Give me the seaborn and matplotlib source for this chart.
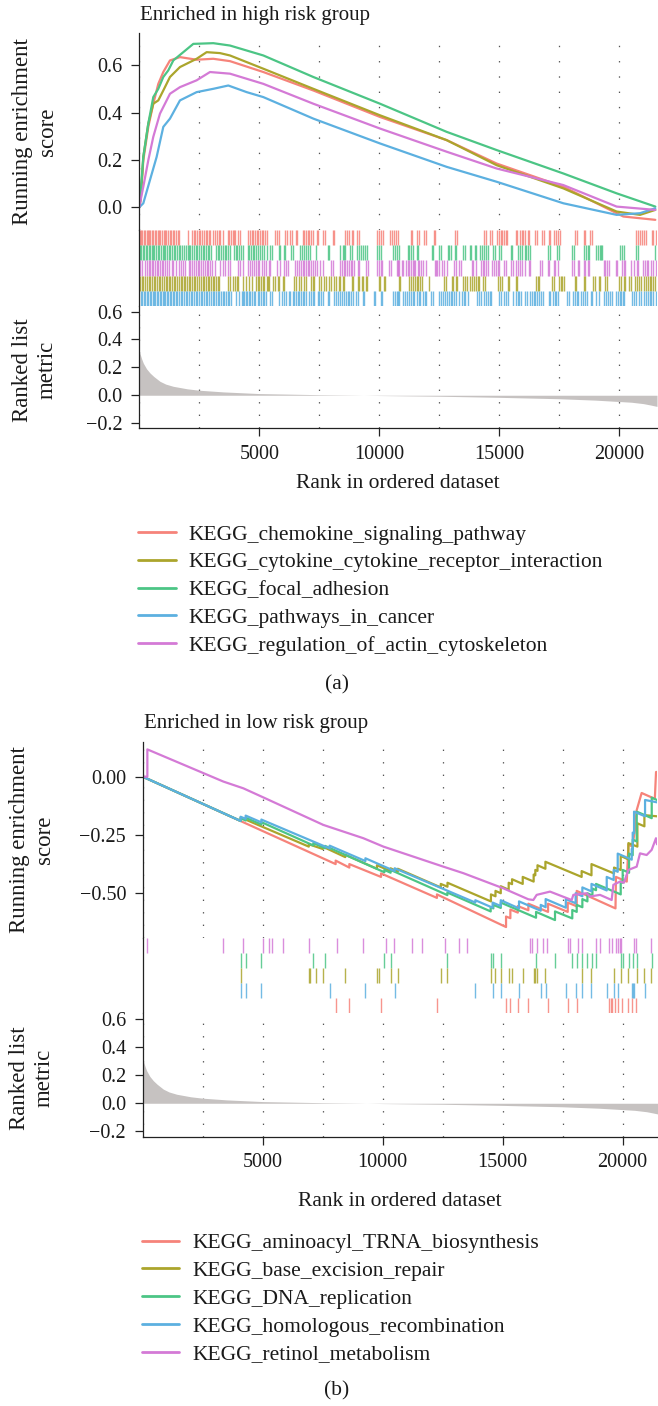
import numpy as np
import pandas as pd
import matplotlib
matplotlib.use("Agg")
import matplotlib.pyplot as plt
import seaborn as sns
from matplotlib.lines import Line2D
from matplotlib.ticker import MultipleLocator, FixedLocator

sns.set_style("ticks")
plt.rcParams["font.family"] = ["Liberation Serif", "DejaVu Serif"]
plt.rcParams["lines.scale_dashes"] = False

# ---------------------------------------------------------------- data
# Panel (a): enriched in high risk group
names_a = ["KEGG_chemokine_signaling_pathway",
           "KEGG_cytokine_cytokine_receptor_interaction",
           "KEGG_focal_adhesion",
           "KEGG_pathways_in_cancer",
           "KEGG_regulation_of_actin_cytoskeleton"]
colors_a = ["#F6837A", "#ABA52C", "#4CC585", "#5CB0E0", "#D47AD6"]

chemokine_rank = [0, 60, 167, 375, 583, 792, 1000, 1278, 1694, 2389, 3083, 3778, 5167, 7250, 10028, 12806, 14889, 17667, 20167, 21500]
chemokine_es = [0.0, 0.031, 0.199, 0.34, 0.438, 0.522, 0.572, 0.621, 0.635, 0.624, 0.628, 0.618, 0.572, 0.494, 0.382, 0.284, 0.185, 0.087, -0.039, -0.053]

cytokine_rank = [0, 60, 167, 375, 583, 792, 1000, 1278, 1694, 2389, 2806, 3361, 3778, 5167, 7250, 10028, 12806, 14889, 17667, 19889, 20861, 21500]
cytokine_es = [0.0, 0.045, 0.213, 0.354, 0.438, 0.452, 0.494, 0.551, 0.593, 0.628, 0.656, 0.652, 0.642, 0.586, 0.501, 0.389, 0.284, 0.178, 0.08, -0.018, -0.032, -0.011]

focal_rank = [0, 50, 167, 375, 583, 792, 1000, 1208, 1417, 1833, 2250, 3083, 3778, 5167, 7250, 10028, 12806, 14889, 17667, 19889, 21500]
focal_es = [0.0, 0.05, 0.213, 0.354, 0.466, 0.501, 0.551, 0.579, 0.621, 0.656, 0.691, 0.694, 0.684, 0.642, 0.551, 0.438, 0.319, 0.242, 0.143, 0.059, 0.003]

cancer_rank = [0, 167, 444, 722, 1000, 1278, 1694, 2389, 3083, 3708, 4473, 5167, 7250, 10028, 12806, 14889, 17667, 19889, 20861, 21500]
cancer_es = [0.0, 0.017, 0.115, 0.213, 0.34, 0.375, 0.452, 0.487, 0.501, 0.515, 0.487, 0.466, 0.375, 0.27, 0.171, 0.108, 0.017, -0.032, -0.025, -0.004]

actin_rank = [0, 167, 375, 583, 861, 1278, 1694, 2389, 2945, 3778, 5167, 7250, 10028, 12806, 14889, 17667, 19889, 21500]
actin_es = [0.003, 0.087, 0.199, 0.298, 0.396, 0.48, 0.508, 0.537, 0.572, 0.565, 0.522, 0.438, 0.333, 0.235, 0.164, 0.094, 0.003, -0.011]

chemokine_hits = [30, 80, 130, 180, 240, 300, 350, 400, 460, 520, 580, 640, 700, 760, 820, 880, 950, 1010, 1070, 1130, 1200, 1260, 1330, 1400, 1460, 1530, 1600, 1660,
                  2014, 2195, 2260, 2330, 2400, 2470, 2540, 2600, 2690, 2760, 2830, 2900, 2960, 3080, 3150, 3220, 3300, 3380, 3470,
                  3680, 3750, 3820, 3890, 3960, 4000, 4100, 4190, 4540, 4620, 4680, 4750, 4820, 4890, 4960, 5030, 5100, 5170, 5240, 5300,
                  5650, 5720, 5830, 6070, 6140, 6290, 6350, 6530, 6580, 6810, 6880, 6950, 7020, 7090, 7160, 7250, 7400, 7460, 7670, 7720,
                  8060, 8110, 8580, 8650, 8750, 8850, 8890, 9060, 9140, 9920, 10000, 10080, 10140, 10450, 10530, 10600, 10680, 10780,
                  11330, 11360, 11570, 11640, 11880, 11940, 12290, 12330, 13160, 13220, 14350, 14450, 14630, 14680,
                  14910, 14980, 15050, 15120, 15190, 15260, 15330, 15700, 15750, 15860, 15930, 16000, 16080, 16200, 16250,
                  16490, 16560, 16770, 16850, 17050, 17100, 17280, 17350, 17450, 17530, 18160, 18220, 18520, 18590, 18780, 18850,
                  20700, 20770, 20860, 20930, 21030, 21100, 21360, 21410, 21530]
focal_hits = [30, 90, 150, 210, 270, 330, 390, 450, 510, 570, 630, 690, 760, 830, 900, 970, 1040, 1090, 1150, 1220, 1290, 1360, 1430, 1500, 1570, 1640, 1710, 1790,
              1850, 1930, 2010, 2060, 2130, 2200, 2270, 2350, 2420, 2500, 2570, 2640, 2710, 2780, 2850, 2920, 3000,
              3200, 3270, 3340, 3410, 3480, 3550, 3620, 3700, 3770, 3960, 4030, 4070, 4150, 4230, 4300, 4510, 4590, 4670, 4750,
              4790, 4870, 4950, 5030, 5110, 5180, 5300, 5450, 5530, 5810, 5860, 6010, 6070, 6330, 6390, 6700, 6780, 6860, 6940,
              7040, 7110, 7370, 7880, 7920, 8360, 8470, 8540, 8580, 8790, 8850, 9070, 9140, 9250, 9330, 9400, 9500, 9920, 10000, 10080,
              10590, 10670, 10720, 10800, 11180, 11250, 11320, 11390, 11570, 11620, 12200, 12250, 12500, 12570, 12850, 12920, 12990,
              13160, 13210, 13470, 13550, 13780, 13830, 13990, 14040, 14210, 14280, 14380, 14460, 14540, 14740, 14830, 15000, 15060,
              15470, 15530, 15780, 15870, 15950, 16050, 16130, 16200, 16280, 17030, 17100, 17390, 17500, 18030, 18130, 18540, 18610,
              18700, 18750, 19030, 19110, 19190, 19240, 19290, 20030, 20110, 20200, 20700, 20780, 21500]
actin_hits = [30, 100, 250, 330, 420, 440, 510, 580, 650, 720, 790, 860, 930, 1000, 1080, 1150, 1250, 1350, 1420, 1520, 1640, 1720, 1810, 1900,
              2060, 2130, 2200, 2280, 2350, 2430, 2500, 2570, 2640, 2720, 2800, 2880, 2940, 3030, 3150, 3360, 3470, 3580, 3680, 3780,
              4100, 4200, 4300, 4540, 4610, 4690, 4770, 4850, 4930, 5000, 5110, 5200, 5280, 5390, 5460, 5750, 5860, 6040, 6120, 6180,
              6500, 6580, 6670, 6740, 6810, 6880, 6950, 7020, 7090, 7160, 7230, 7310, 7390, 7540, 7640, 7990, 8060, 8360, 8440, 8520, 8580,
              8640, 8720, 8800, 8880, 8960, 9110, 9170, 9450, 9530, 9890, 9970, 10050, 10110, 10420, 10490, 10720, 10780,
              10770, 10810, 10930, 10970, 11110, 11180, 11250, 11320, 11390, 11450, 11500, 11600, 11640, 11740, 11810, 11930,
              12300, 12360, 12420, 12470, 12620, 12700, 12800, 13130, 13190, 13310, 13400, 13850, 13900, 14030,
              14240, 14310, 14380, 14460, 14520, 14700, 14780, 14860, 14950, 15000, 15210, 15280, 15500, 15580, 15700, 15770,
              15880, 15930, 16070, 16230, 16290, 16700, 16790, 17020, 17070, 17260, 17310, 17460, 18030, 18120, 18280, 18320,
              18530, 18570, 18690, 18750, 19370, 19420, 19500, 19560, 19870, 19920, 20120, 20200, 20250, 20500, 20600,
              20730, 20780, 21000, 21050, 21140, 21190, 21340, 21390, 21530]
cytokine_hits = [30, 100, 170, 240, 320, 400, 460, 530, 600, 670, 740, 810, 880, 950, 1020, 1100, 1170, 1220, 1290, 1360, 1430, 1500, 1570, 1640, 1720,
                 1780, 1850, 1920, 1990, 2060, 2130, 2200, 2270, 2340, 2420, 2500, 2580, 2640, 2710, 2780, 2850, 2920, 2990, 3060, 3130, 3200, 3270, 3330,
                 3680, 3760, 3890, 3980, 4070, 4130, 4330, 4440, 4580, 4680, 4860, 4930, 5000, 5070, 5140, 5210, 5320, 5380, 5420,
                 5580, 5670, 5760, 5830, 5970, 6040, 6460, 6530, 6670, 6720, 6880, 6940, 7150, 7220, 7290, 7470, 7580, 7710, 7780,
                 7920, 7990, 8130, 8200, 8310, 8360, 8470, 8540, 8860, 8920, 9110, 9170, 9260, 9330, 9450, 9490, 9970, 10030, 10210, 10250,
                 10810, 10860, 11220, 11300, 11420, 11490, 11560, 11630, 11710, 11790, 12060, 12700, 12770, 13030, 13080, 13200, 13250,
                 13500, 13580, 13660, 13780, 13850, 13950, 14030, 14120, 14170, 14340, 14410, 14940, 15030, 15110, 15370, 15420, 15700, 15750,
                 16530, 16600, 16670, 17180, 17260, 17500, 17550, 17620, 17680, 18160, 18210, 18520, 18570, 18920, 18970, 19170, 19210,
                 19410, 19470, 19980, 20070, 20200, 20250, 20420, 20470, 20640, 20720, 20840, 20900, 21040, 21110,
                 21190, 21260, 21330, 21400, 21470]
cancer_hits = [70, 130, 190, 250, 310, 370, 430, 490, 550, 610, 670, 730, 790, 850, 910, 970, 1030, 1090, 1150, 1210, 1280, 1340, 1400, 1460, 1520,
               1580, 1650, 1720, 1790, 1860, 1930, 2000, 2070, 2140, 2210, 2280, 2350, 2420, 2490, 2560, 2630, 2700, 2770, 2840, 2910, 2980,
               3050, 3120, 3190, 3260, 3330, 3400, 3470, 3540, 3610, 3680, 3750, 3830, 4030, 4170, 4270, 4310, 4380, 4440,
               4490, 4560, 4630, 4700, 4770, 4840, 4930, 5000, 5070, 5140, 5210, 5270, 5460, 5510, 5830, 5930, 6040, 6110, 6220, 6280,
               6390, 6460, 6530, 6600, 6670, 6740, 6810, 6880, 6940, 7080, 7150, 7220, 7290, 7430, 7470, 7570, 7640, 7850, 7920,
               8130, 8200, 8260, 8360, 8440, 8540, 8610, 8680, 8750, 8820, 8890, 9030, 9100, 9310, 9380, 9760, 9830, 10070, 10110,
               10560, 10640, 10720, 10780, 10800, 10970, 11050, 11150, 11250, 11320, 11390, 11460, 11560, 11640, 11700, 11800, 11890, 11940,
               12160, 12250, 12500, 12580, 12670, 12750, 12820, 12900, 12980, 13030, 13130, 13200, 13300, 13450, 13520, 13590, 13680,
               14070, 14140, 14230, 14380, 14450, 14520, 14600, 14650, 15000, 15060, 15210, 15280, 15350, 15590, 15680, 15770, 15840, 15900,
               16080, 16150, 16290, 16350, 16450, 16500, 16570, 16640, 16720, 16810, 17060, 17110, 17220, 17300, 17380, 17430,
               17820, 17920, 18060, 18140, 18220, 18270, 18410, 18480, 18570, 18640, 18800, 18850, 19030, 19140, 19360, 19440, 19530,
               19610, 19700, 19860, 19940, 20030, 20070, 20150, 20210, 20530, 20610, 20700, 20810, 20900, 21030, 21110,
               21180, 21260, 21330, 21390, 21530]

# Panel (b): enriched in low risk group
names_b = ["KEGG_aminoacyl_TRNA_biosynthesis",
           "KEGG_base_excision_repair",
           "KEGG_DNA_replication",
           "KEGG_homologous_recombination",
           "KEGG_retinol_metabolism"]
colors_b = ["#F6837A", "#ABA52C", "#4CC585", "#5CB0E0", "#D47AD6"]

trna_rank = [0, 8040, 8040, 8610, 8610, 9930, 9930, 12260, 12260, 15140, 15140, 15320, 15320, 15630, 15630, 16070, 16070, 16890, 16890,
             17710, 17710, 18085, 18085, 19700, 19720, 20170, 20240, 20400, 20510, 20580, 20790, 21340, 21390, 21430]
trna_es = [0.0, -0.375, -0.36, -0.39, -0.375, -0.43, -0.415, -0.52, -0.505, -0.645, -0.6, -0.607, -0.57, -0.583, -0.555, -0.573, -0.545, -0.58, -0.545,
           -0.58, -0.54, -0.556, -0.49, -0.565, -0.43, -0.45, -0.29, -0.3, -0.23, -0.145, -0.07, -0.095, 0.02, 0.02]

ber_rank = [0, 4080, 4080, 6920, 6920, 7500, 7500, 8440, 8440, 9760, 9760, 10330, 10330, 10630, 10630, 12420, 12420, 12700, 12700,
            14510, 14510, 14700, 14700, 14920, 14920, 15250, 15250, 15390, 15390, 15835, 15835, 16290, 16290, 16360, 16360, 16450, 16450,
            16780, 16780, 18290, 18290, 18700, 18700, 19640, 19640, 19918, 19918, 20238, 20238, 20613, 20613, 20905, 20905, 21430]
ber_es = [0, -0.19, -0.175, -0.3, -0.29, -0.31, -0.3, -0.345, -0.335, -0.395, -0.38, -0.405, -0.393, -0.407, -0.395, -0.475, -0.46, -0.472, -0.455,
          -0.535, -0.505, -0.513, -0.49, -0.5, -0.47, -0.485, -0.455, -0.461, -0.44, -0.46, -0.43, -0.45, -0.42, -0.423, -0.4, -0.404, -0.38,
          -0.395, -0.365, -0.43, -0.405, -0.423, -0.375, -0.415, -0.39, -0.4, -0.34, -0.355, -0.285, -0.3, -0.2, -0.213, -0.165, -0.17]

dna_rank = [0, 4080, 4080, 4290, 4290, 4945, 4945, 7110, 7110, 7600, 7600, 10070, 10070, 10330, 10330, 12695, 12695, 14500, 14500,
            14610, 14610, 14920, 14920, 16390, 16390, 17180, 17180, 17900, 17900, 18085, 18085, 18320, 18320, 18530, 18530, 18740, 18740,
            18890, 18890, 19918, 19918, 20000, 20000, 20266, 20266, 20418, 20418, 20585, 20585, 21210, 21210, 21430]
dna_es = [0, -0.19, -0.178, -0.188, -0.176, -0.205, -0.195, -0.295, -0.285, -0.307, -0.297, -0.41, -0.4, -0.412, -0.4, -0.508, -0.497, -0.578, -0.56,
          -0.565, -0.55, -0.563, -0.54, -0.605, -0.58, -0.615, -0.578, -0.608, -0.572, -0.58, -0.55, -0.56, -0.525, -0.535, -0.5, -0.51, -0.48,
          -0.487, -0.46, -0.505, -0.45, -0.455, -0.4, -0.412, -0.33, -0.337, -0.27, -0.278, -0.15, -0.178, -0.09, -0.1]

hr_rank = [0, 4080, 4080, 4290, 4290, 4945, 4945, 7790, 7790, 9280, 9280, 10500, 10500, 13860, 13860, 14580, 14580, 14920, 14920,
           15680, 15680, 16585, 16585, 16790, 16790, 17630, 17630, 18040, 18040, 18320, 18320, 18700, 18700, 19335, 19335, 19626, 19626,
           19793, 19793, 20377, 20377, 20418, 20418, 20474, 20474, 20932, 20932, 21430]
hr_es = [0, -0.19, -0.172, -0.181, -0.167, -0.196, -0.184, -0.308, -0.296, -0.362, -0.35, -0.405, -0.393, -0.54, -0.53, -0.562, -0.54, -0.555, -0.53,
         -0.565, -0.535, -0.575, -0.55, -0.56, -0.525, -0.562, -0.525, -0.543, -0.5, -0.513, -0.475, -0.492, -0.46, -0.488, -0.43, -0.443, -0.4,
         -0.408, -0.33, -0.356, -0.31, -0.312, -0.24, -0.243, -0.15, -0.17, -0.1, -0.11]

retinol_rank = [0, 194, 194, 3361, 4195, 5028, 7528, 9195, 10029, 12529, 13362, 15029, 16071, 16277, 16416, 16694, 16972, 17874, 17944,
                18499, 18638, 19055, 19541, 19611, 19889, 20050, 20236, 20583, 20722, 20999, 21208, 21388, 21430]
retinol_es = [0, 0, 0.117, -0.021, -0.05, -0.089, -0.207, -0.264, -0.3, -0.386, -0.414, -0.479, -0.526, -0.529, -0.507, -0.5, -0.493, -0.529, -0.507,
              -0.5, -0.514, -0.507, -0.529, -0.464, -0.45, -0.455, -0.4, -0.386, -0.329, -0.336, -0.314, -0.264, -0.29]

retinol_hits = [194, 3361, 4195, 5000, 5278, 5389, 5834, 6945, 8084, 9167, 10140, 10473, 11237, 11654, 12612, 13168, 13501, 16140, 16223,
                16446, 16668, 16862, 17710, 17807, 18126, 18321, 18876, 19057, 19432, 19543, 19710, 19793, 19890, 19946, 20474, 20543, 21182]
dna_hits = [4084, 4292, 4945, 7112, 7598, 10070, 10334, 12695, 14501, 14612, 14918, 16390, 17182, 17904, 18085, 18321, 18530, 18738, 18890,
            19918, 20002, 20266, 20418, 20585, 21210]
ber_hits = [4084, 6917, 6973, 7209, 7501, 8445, 9765, 9848, 10334, 10626, 12418, 12695, 14515, 14696, 14918, 15251, 15390, 15835, 16293,
            16362, 16446, 16779, 18293, 18696, 19640, 19918, 20238, 20613, 20905, 21168]
hr_hits = [4084, 4292, 4945, 7792, 9279, 10501, 13862, 14584, 14918, 15682, 16585, 16793, 17626, 18043, 18321, 18696, 19335, 19626, 19793,
           20377, 20418, 20474, 20932]
trna_hits = [8042, 8612, 9931, 12265, 15140, 15321, 15627, 16071, 16890, 17710, 18085, 19432, 19501, 19557, 19682, 19821, 19960, 20238, 20377, 20543]

# Ranked list metric (same ranked gene list in both panels)
metric_rank = [0, 100, 167, 300, 444, 600, 861, 1100, 1417, 2000, 2500, 3500, 5000, 7500, 9000, 10000, 12500, 15000, 17500, 19000, 20000, 20500, 21000, 21300, 21570]
metric_value = [0.314, 0.26, 0.23, 0.19, 0.16, 0.135, 0.1, 0.08, 0.064, 0.046, 0.036, 0.024, 0.012, 0.004, 0.001, -0.002, -0.007, -0.015, -0.025, -0.035, -0.045, -0.05, -0.06, -0.07, -0.08]

x_ticks = [5000, 10000, 15000, 20000]

# ---------------------------------------------------------------- layout
W, H = 658, 1406
FS = 14.5      # tick labels
FS_T = 15.5    # axis labels, legend, captions
FS_Y = 16.5    # y axis labels
TXT = "#1a1a1a"
GRID = "#555555"
fig = plt.figure(figsize=(W / 100, H / 100), dpi=100)


def rect(l, t, r, b):
    return [l / W, 1 - b / H, (r - l) / W, (b - t) / H]


def style_grid(ax, dots):
    ax.xaxis.set_major_locator(FixedLocator(x_ticks))
    ax.xaxis.set_minor_locator(MultipleLocator(2500))
    ax.grid(axis="x", which="both", color=GRID, lw=0.9, ls=(0, (1, dots)))
    ax.set_axisbelow(True)


def panel(left, right, top, es_bot, rug_bot, rk_bot, xmax, es_ylim, es_ticks, es_fmt,
          curves, names, colors, rug_rows, title, title_base, ylab_x, xlab_base, leg_top, leg_left, cap_y, cap_label, es_dots):
    ax_es = fig.add_axes(rect(left, top, right, es_bot))
    ax_rug = fig.add_axes(rect(left, es_bot, right, rug_bot), sharex=ax_es)
    ax_rk = fig.add_axes(rect(left, rug_bot, right, rk_bot), sharex=ax_es)

    for ax in (ax_es, ax_rug, ax_rk):
        for s in ["top", "right"]:
            ax.spines[s].set_visible(False)
        for s in ["left", "bottom"]:
            ax.spines[s].set_linewidth(0.9)
            ax.spines[s].set_color("#222222")
        ax.tick_params(axis="both", which="major", length=5.5, width=0.9, color="#222222",
                       pad=6.5, labelsize=FS, labelcolor=TXT)

    # running ES curves
    frames = []
    for (r, e), n in zip(curves, names):
        frames.append(pd.DataFrame({"rank": r, "es": e, "set": n}))
    df = pd.concat(frames, ignore_index=True)
    sns.lineplot(data=df, x="rank", y="es", hue="set", hue_order=names, palette=colors,
                 sort=False, estimator=None, lw=1.6, legend=False, ax=ax_es)
    ax_es.set_xlim(0, xmax)
    ax_es.set_ylim(*es_ylim)
    ax_es.set_yticks(es_ticks)
    ax_es.set_yticklabels([es_fmt.format(v).replace("-", "\u2212") for v in es_ticks])
    style_grid(ax_es, es_dots)
    ax_es.spines["bottom"].set_visible(False)
    ax_es.tick_params(axis="x", which="both", length=0, labelbottom=False)
    ax_es.set_xlabel("")
    ax_es.set_ylabel("")

    # rug of gene-set hits
    for i, (hits, c) in enumerate(rug_rows):
        y0 = 4 - i
        ax_rug.vlines(hits, y0, y0 + 1, color=c, lw=1.0, alpha=0.85)
    ax_rug.set_ylim(0, 5)
    ax_rug.set_yticks([])
    ax_rug.spines["bottom"].set_visible(False)
    ax_rug.tick_params(axis="x", which="both", length=0, labelbottom=False)

    # ranked list metric
    ax_rk.fill_between(metric_rank, 0, metric_value, color="#C6C2C1", lw=0)
    ax_rk.set_ylim(-0.237, 0.64)
    ax_rk.set_yticks([0.6, 0.4, 0.2, 0.0, -0.2])
    ax_rk.set_yticklabels(["0.6", "0.4", "0.2", "0.0", "\u22120.2"])
    style_grid(ax_rk, 8)
    ax_rk.set_xticklabels([str(v) for v in x_ticks])
    ax_rk.tick_params(axis="x", which="minor", length=0)
    ax_rk.tick_params(axis="x", which="major", labelbottom=True)

    # texts
    fig.text(left / W + 1 / W, 1 - title_base / H, title, fontsize=15, color=TXT, ha="left", va="baseline")
    fig.text(ylab_x / W, 1 - ((top + es_bot) / 2) / H, "Running enrichment\nscore", rotation=90,
             ha="center", va="center", multialignment="center", fontsize=FS_Y, color=TXT)
    fig.text(ylab_x / W, 1 - ((rug_bot + rk_bot) / 2 + 3) / H, "Ranked list\nmetric", rotation=90,
             ha="center", va="center", multialignment="center", fontsize=FS_Y, color=TXT)
    fig.text(((left + right) / 2) / W, 1 - xlab_base / H, "Rank in ordered dataset",
             ha="center", va="baseline", fontsize=FS_T, color=TXT)

    handles = [Line2D([], [], color=c, lw=2.0) for c in colors]
    fig.legend(handles, names, loc="upper left", bbox_to_anchor=(leg_left / W, 1 - leg_top / H),
               frameon=False, borderpad=0, borderaxespad=0, handlelength=1.75, handletextpad=0.6,
               labelspacing=0.36, fontsize=FS_T, labelcolor=TXT)
    fig.text(337 / W, 1 - cap_y / H, cap_label, ha="center", va="center", fontsize=FS_T, color=TXT)


panel(139.3, 657, 33, 230, 306, 428.3, 21570, (-0.096, 0.737), [0.0, 0.2, 0.4, 0.6], "{:.1f}",
      [(chemokine_rank, chemokine_es), (cytokine_rank, cytokine_es), (focal_rank, focal_es),
       (cancer_rank, cancer_es), (actin_rank, actin_es)],
      names_a, colors_a,
      [(chemokine_hits, colors_a[0]), (focal_hits, colors_a[2]), (actin_hits, colors_a[4]),
       (cytokine_hits, colors_a[1]), (cancer_hits, colors_a[3])],
      "Enriched in high risk group", 20, 35, 488, 524.5, 138, 685, "(a)", 10)

panel(142.7, 657, 741.7, 938, 1013, 1136.7, 21430, (-0.692, 0.150), [0.0, -0.25, -0.5], "{:.2f}",
      [(trna_rank, trna_es), (ber_rank, ber_es), (dna_rank, dna_es), (hr_rank, hr_es), (retinol_rank, retinol_es)],
      names_b, colors_b,
      [(retinol_hits, colors_b[4]), (dna_hits, colors_b[2]), (ber_hits, colors_b[1]),
       (hr_hits, colors_b[3]), (trna_hits, colors_b[0])],
      "Enriched in low risk group", 728, 32, 1206, 1233, 141.7, 1391, "(b)", 8)

fig.savefig("out.png", dpi=100, facecolor="white")
